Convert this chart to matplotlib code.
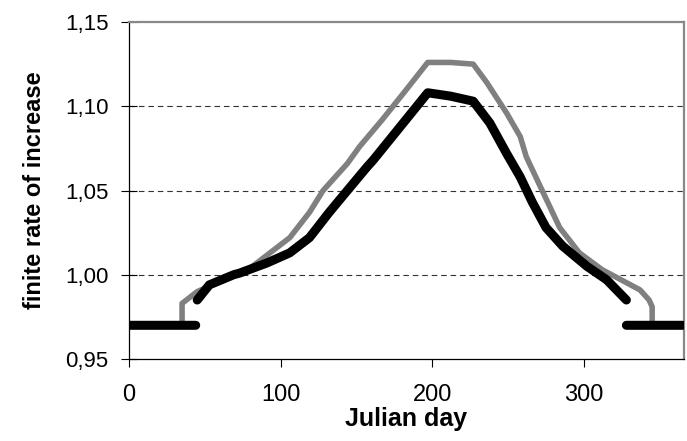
import numpy as np
import matplotlib.pyplot as plt

# values
black_day = [0, 44, np.nan, 45, 53, 69, 73, 91, 106, 119, 132, 144, 157, 161, 179,
             197, 212, 227, 238, 249, 258, 266, 275, 286, 302, 315, 328,
             np.nan, 328, 365]
black_rate = [0.970, 0.970, np.nan, 0.985, 0.994, 1.000, 1.001, 1.007, 1.013, 1.022,
              1.037, 1.050, 1.064, 1.068, 1.088, 1.108, 1.106, 1.103, 1.090, 1.072,
              1.058, 1.043, 1.028, 1.017, 1.005, 0.997, 0.985,
              np.nan, 0.970, 0.970]

gray_day = [0, 35, 35, 45, 80, 106, 119, 128, 144, 152, 167, 183, 197, 212, 227,
            236, 249, 258, 262, 273, 284, 297, 312, 337, 343, 345, 345, 365]
gray_rate = [0.970, 0.970, 0.983, 0.990, 1.004, 1.022, 1.037, 1.050, 1.066, 1.076,
             1.092, 1.110, 1.126, 1.126, 1.125, 1.114, 1.096, 1.082, 1.070, 1.049,
             1.028, 1.013, 1.003, 0.991, 0.985, 0.981, 0.970, 0.970]

y_ticks = [0.95, 1.00, 1.05, 1.10, 1.15]
x_ticks = [0, 100, 200, 300]

plt.rcParams['font.family'] = ['Liberation Sans', 'DejaVu Sans']

fig = plt.figure(figsize=(6.87, 4.41), dpi=100)
ax = fig.add_axes([129 / 687, 1 - 359 / 441, 555 / 687, 337 / 441])

for y in y_ticks[1:-1]:
    ax.axhline(y, color='#333333', lw=0.8, linestyle=(0, (5, 3.5)), zorder=1)

ax.plot(gray_day, gray_rate, color='#808080', lw=4, solid_joinstyle='round',
        solid_capstyle='round', zorder=2)
ax.plot(black_day, black_rate, color='black', lw=6.5, solid_joinstyle='round',
        solid_capstyle='round', zorder=3)

ax.set_xlim(0, 366)
ax.set_ylim(0.95, 1.15)
ax.set_xticks(x_ticks)
ax.set_yticks(y_ticks)
ax.set_yticklabels([f'{v:.2f}'.replace('.', ',') for v in y_ticks])

ax.tick_params(axis='y', direction='inout', length=11.5, width=0.8, labelsize=16, pad=9)
ax.tick_params(axis='x', direction='out', length=5.8, width=0.8, labelsize=17, pad=12)

for side in ['left', 'bottom']:
    ax.spines[side].set_color('black')
    ax.spines[side].set_linewidth(0.9)
for side in ['top', 'right']:
    ax.spines[side].set_color('#888888')
    ax.spines[side].set_linewidth(1.6)

ax.set_xlabel('Julian day', fontsize=18, fontweight='bold', labelpad=1)
ax.set_ylabel('finite rate of increase', fontsize=17, fontweight='bold', labelpad=14)

fig.savefig('out.png', dpi=100)
